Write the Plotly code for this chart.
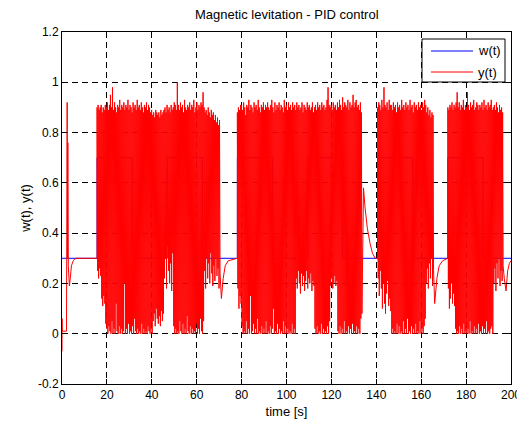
import numpy as np
import plotly.graph_objects as go

# ---------------- data ----------------
# reference w(t): step times and levels
w_times = [0, 15.625, 31.25, 46.875, 62.5, 78.125, 93.75, 109.375, 125.0,
           140.625, 156.25, 171.875, 187.5, 200]
w_levels = [0.3, 0.7, 0.3, 0.7, 0.3, 0.7, 0.3, 0.7, 0.3, 0.7, 0.3, 0.7, 0.3, 0.3]

# output y(t): initial transient
y0_t = [0, 0.02, 0.1, 2.0, 2.3, 2.5, 2.6, 2.8, 3.3, 3.7, 4.2, 5.0, 6.0, 8.0]
y0_v = [-0.07, 0.06, 0.01, 0.01, 0.92, 0.30, 0.76, 0.27, 0.19, 0.22, 0.27, 0.29, 0.30, 0.30]

# oscillating segment 1 (15.6 s .. 70.4 s)
seg1_span = [15.625, 70.4]
seg1_peaks = [0.90, 0.91, 0.89, 0.90, 0.91, 0.88, 0.90, 0.89, 0.91, 0.90,
              0.92, 0.89, 0.91, 0.95, 0.90, 0.98, 0.89, 0.92, 0.90, 0.88,
              0.91, 0.90, 0.93, 0.89, 0.91, 0.90, 0.92, 0.89, 0.91, 0.90,
              0.93, 0.89, 0.91, 0.90, 0.88, 0.92, 0.90, 0.91, 0.89, 0.93,
              0.90, 0.91, 0.89, 0.92, 0.90, 0.88, 0.91, 0.90, 0.92, 0.89,
              0.91, 0.90, 0.88, 0.89, 0.87, 0.88, 0.86, 0.89, 0.88, 0.87,
              0.88, 0.86, 0.89, 0.87, 0.88, 0.89, 0.90, 0.88, 0.91, 0.89,
              0.90, 0.88, 0.91, 0.89, 0.90, 0.92, 0.91, 0.89, 1.00, 0.91,
              0.89, 0.92, 0.90, 0.91, 0.88, 0.93, 0.90, 0.89, 0.91, 0.90,
              0.92, 0.89, 0.91, 0.90, 0.93, 0.88, 0.90, 0.92, 0.89, 0.91,
              0.90, 0.92, 0.91, 0.96, 0.90, 0.88, 0.89, 0.87, 0.90, 0.88,
              0.86, 0.89, 0.87, 0.88, 0.85, 0.87, 0.84, 0.86, 0.83, 0.85]
seg1_troughs = [0.25, 0.22, 0.26, 0.23, 0.14, 0.11, 0.15, 0.12, 0.04, 0.02,
                0.00, 0.03, 0.01, 0.00, 0.05, 0.00, 0.02, 0.00, 0.12, 0.01,
                0.00, 0.03, 0.00, 0.02, 0.00, 0.01, 0.20, 0.00, 0.02, 0.00,
                0.04, 0.00, 0.01, 0.00, 0.03, 0.00, 0.06, 0.01, 0.00, 0.02,
                0.00, 0.01, 0.00, 0.04, 0.00, 0.02, 0.00, 0.01, 0.00, 0.03,
                0.01, 0.00, 0.02, 0.00, 0.05, 0.08, 0.03, 0.10, 0.06, 0.04,
                0.07, 0.03, 0.09, 0.05, 0.08, 0.22, 0.30, 0.18, 0.35, 0.25,
                0.20, 0.28, 0.17, 0.32, 0.03, 0.00, 0.02, 0.00, 0.01, 0.00,
                0.05, 0.01, 0.00, 0.04, 0.00, 0.02, 0.00, 0.07, 0.01, 0.00,
                0.03, 0.00, 0.02, 0.00, 0.01, 0.00, 0.04, 0.00, 0.02, 0.00,
                0.06, 0.01, 0.00, 0.05, 0.25, 0.18, 0.30, 0.22, 0.28, 0.20,
                0.32, 0.24, 0.19, 0.27, 0.21, 0.30, 0.23, 0.26, 0.18, 0.24]
tail1_t = [71.0, 71.8, 72.7, 74.0, 78.1]
tail1_v = [0.14, 0.22, 0.27, 0.29, 0.30]

# oscillating segment 2 (78.1 s .. 133.6 s)
seg2_span = [78.125, 133.6]
seg2_peaks = [0.88, 0.90, 0.89, 0.91, 0.91, 0.89, 0.92, 0.90, 0.87, 0.91,
              0.90, 0.93, 0.89, 0.91, 0.90, 0.88, 0.92, 0.90, 0.91, 0.89,
              0.93, 0.90, 0.88, 0.91, 0.90, 0.92, 0.89, 0.91, 0.90, 0.92,
              0.90, 0.89, 0.91, 0.93, 0.90, 0.88, 0.92, 0.89, 0.91, 0.90,
              0.92, 0.89, 0.91, 0.90, 0.88, 0.93, 0.90, 0.91, 0.89, 0.92,
              0.90, 0.91, 0.89, 0.92, 0.90, 0.91, 0.89, 0.92, 0.90, 0.91,
              0.89, 0.90, 0.92, 0.88, 0.91, 0.90, 0.89, 0.92, 0.90, 0.91,
              0.89, 0.90, 0.92, 0.88, 0.90, 0.91, 0.89, 0.92, 0.90, 0.91,
              0.89, 0.92, 0.90, 0.91, 0.89, 0.90, 0.93, 0.98, 0.91, 0.90,
              0.91, 0.89, 0.92, 0.90, 0.91, 0.89, 0.92, 0.90, 0.93, 0.91,
              0.89, 0.94, 0.90, 0.92, 0.91, 0.90, 0.93, 0.89, 0.92, 0.90,
              0.91, 0.95, 0.90, 0.92, 0.93, 0.90, 0.91, 0.89, 0.92, 0.88]
seg2_troughs = [0.18, 0.10, 0.15, 0.12, 0.03, 0.00, 0.01, 0.00, 0.05, 0.00,
                0.02, 0.00, 0.15, 0.00, 0.01, 0.04, 0.00, 0.02, 0.00, 0.06,
                0.00, 0.01, 0.00, 0.03, 0.00, 0.02, 0.00, 0.05, 0.00, 0.01,
                0.00, 0.03, 0.00, 0.02, 0.10, 0.00, 0.01, 0.00, 0.04, 0.00,
                0.02, 0.00, 0.01, 0.00, 0.05, 0.00, 0.03, 0.00, 0.02, 0.00,
                0.01, 0.00, 0.04, 0.00, 0.02, 0.00, 0.22, 0.18, 0.25, 0.20,
                0.16, 0.24, 0.19, 0.23, 0.17, 0.21, 0.25, 0.18, 0.22, 0.20,
                0.24, 0.17, 0.21, 0.19, 0.02, 0.00, 0.03, 0.00, 0.01, 0.00,
                0.04, 0.00, 0.02, 0.00, 0.01, 0.00, 0.03, 0.00, 0.05, 0.19,
                0.22, 0.18, 0.20, 0.23, 0.19, 0.21, 0.01, 0.00, 0.03, 0.00,
                0.02, 0.00, 0.05, 0.00, 0.01, 0.00, 0.03, 0.00, 0.02, 0.00,
                0.04, 0.00, 0.01, 0.00, 0.03, 0.00, 0.02, 0.00, 0.06, 0.08]
tail2_t = [134.3, 135.0, 136.0, 137.2, 138.3, 139.5, 140.6]
tail2_v = [0.58, 0.50, 0.42, 0.36, 0.32, 0.30, 0.30]

# oscillating segment 3 (140.6 s .. 165.5 s)
seg3_span = [140.625, 165.5]
seg3_peaks = [0.90, 0.92, 0.91, 0.89, 0.93, 0.90, 0.98, 0.91, 0.90, 0.92,
              0.89, 0.93, 0.91, 0.91, 0.89, 0.92, 0.90, 0.91, 0.88, 0.92,
              0.90, 0.91, 0.89, 0.93, 0.90, 0.91, 0.89, 0.92, 0.90, 0.91,
              0.89, 0.93, 0.90, 0.91, 0.88, 0.92, 0.90, 0.91, 0.89, 0.92,
              0.90, 0.91, 0.89, 0.92, 0.90, 0.93, 0.91, 0.88, 0.90, 0.87,
              0.89, 0.86, 0.88, 0.87]
seg3_troughs = [0.22, 0.15, 0.25, 0.18, 0.10, 0.20, 0.12, 0.08, 0.16, 0.21,
                0.11, 0.14, 0.09, 0.00, 0.02, 0.00, 0.01, 0.00, 0.04, 0.00,
                0.03, 0.00, 0.01, 0.00, 0.05, 0.00, 0.02, 0.00, 0.06, 0.00,
                0.01, 0.00, 0.03, 0.00, 0.02, 0.00, 0.04, 0.00, 0.01, 0.00,
                0.05, 0.00, 0.02, 0.00, 0.03, 0.06, 0.20, 0.26, 0.18, 0.28,
                0.22, 0.30, 0.19, 0.25]
tail3_t = [166.0, 167.0, 168.0, 169.5, 171.8]
tail3_v = [0.12, 0.22, 0.27, 0.29, 0.30]

# oscillating segment 4 (171.9 s .. 196.5 s)
seg4_span = [171.875, 196.5]
seg4_peaks = [0.90, 0.89, 0.91, 0.90, 0.92, 0.89, 0.91, 0.90, 0.92, 0.96,
              0.90, 0.92, 0.89, 0.91, 0.90, 0.93, 0.89, 0.91, 0.90, 0.96,
              0.91, 0.89, 0.92, 0.90, 0.91, 0.93, 0.89, 0.90, 0.92, 0.91,
              0.89, 0.91, 0.90, 0.92, 0.89, 0.93, 0.90, 0.91, 0.89, 0.92,
              0.90, 0.91, 0.93, 0.89, 0.90, 0.91, 0.89, 0.92, 0.90, 0.88,
              0.91, 0.89, 0.90, 0.88]
seg4_troughs = [0.18, 0.10, 0.14, 0.20, 0.12, 0.16, 0.11, 0.02, 0.00, 0.01,
                0.00, 0.03, 0.00, 0.02, 0.00, 0.04, 0.00, 0.01, 0.00, 0.02,
                0.00, 0.05, 0.00, 0.01, 0.00, 0.03, 0.00, 0.02, 0.00, 0.04,
                0.00, 0.01, 0.00, 0.03, 0.00, 0.02, 0.00, 0.05, 0.00, 0.01,
                0.00, 0.02, 0.03, 0.00, 0.20, 0.26, 0.17, 0.28, 0.22, 0.30,
                0.19, 0.25, 0.21, 0.27]
tail4_t = [197.0, 197.8, 198.5, 199.3, 200.0]
tail4_v = [0.22, 0.17, 0.25, 0.28, 0.29]

x_ticks = [0, 20, 40, 60, 80, 100, 120, 140, 160, 180, 200]
y_ticks = [-0.2, 0, 0.2, 0.4, 0.6, 0.8, 1.0, 1.2]
y_tick_text = ["-0.2", "0", "0.2", "0.4", "0.6", "0.8", "1", "1.2"]
legend_names = ["w(t)", "y(t)"]
legend_colors = ["#0000ff", "#ff0000"]


# ---------------- assemble y(t) ----------------
def segment(span, peaks, troughs):
    vals = []
    for p, q in zip(peaks, troughs):
        vals += [p, q]
    ts = np.linspace(span[0], span[1], len(vals))
    return list(ts), vals


yt, yv = list(y0_t), list(y0_v)
for span, pk, tr, tt, tv in [
    (seg1_span, seg1_peaks, seg1_troughs, tail1_t, tail1_v),
    (seg2_span, seg2_peaks, seg2_troughs, tail2_t, tail2_v),
    (seg3_span, seg3_peaks, seg3_troughs, tail3_t, tail3_v),
    (seg4_span, seg4_peaks, seg4_troughs, tail4_t, tail4_v),
]:
    st, sv = segment(span, pk, tr)
    yt += [span[0]] + st + tt
    yv += [0.30] + sv + tv

FONT = "Liberation Sans, Arial, Helvetica, sans-serif"

# page is drawn with an 8px body offset; plot area target (window px): x 62..511, y 32..384
W, H = 525, 421
OFF = 8
L, R, T, B = 62 - OFF, W - (511 - OFF), 32 - OFF, H - (384 - OFF)
PW, PH = W - L - R, H - T - B


def px(X):   # window x pixel -> paper x
    return (X - OFF - L) / PW


def py(Y):   # window y pixel -> paper y
    return (H - B - (Y - OFF)) / PH


fig = go.Figure()
fig.add_trace(go.Scatter(x=w_times, y=w_levels, mode="lines", name=legend_names[0],
                         line=dict(color=legend_colors[0], width=1, shape="hv"),
                         showlegend=False))
fig.add_trace(go.Scatter(x=yt, y=yv, mode="lines", name=legend_names[1],
                         line=dict(color=legend_colors[1], width=1, simplify=False),
                         showlegend=False))

axis_common = dict(
    showline=True, linecolor="black", linewidth=1, mirror="ticks",
    ticks="inside", ticklen=5, tickcolor="black", automargin=False,
    showgrid=True, gridcolor="black", gridwidth=0.7, griddash="6px,4px",
    zeroline=False, tickfont=dict(family=FONT, size=12, color="black"),
)

fig.update_xaxes(range=[0, 200], tickvals=x_ticks,
                 title=dict(text="time [s]", font=dict(family=FONT, size=13, color="black"), standoff=5),
                 **axis_common)
fig.update_yaxes(range=[-0.2, 1.2], tickvals=y_ticks, ticktext=y_tick_text,
                 title=dict(text="w(t), y(t)", font=dict(family=FONT, size=13, color="black"), standoff=4),
                 **axis_common)

# manual MATLAB-style legend box
shapes = [dict(type="rect", xref="paper", yref="paper",
               x0=px(422), x1=px(505), y0=py(82), y1=py(39),
               line=dict(color="black", width=1), fillcolor="white", layer="above")]
annotations = [dict(text="Magnetic levitation - PID control", x=0.5, xref="paper",
                    xanchor="center", y=py(15), yref="paper", yanchor="middle",
                    showarrow=False, font=dict(family=FONT, size=13, color="black"))]
for i, (nm, col) in enumerate(zip(legend_names, legend_colors)):
    yy = py(51 + 21 * i)
    shapes.append(dict(type="line", xref="paper", yref="paper",
                       x0=px(431), x1=px(473), y0=yy, y1=yy,
                       line=dict(color=col, width=1), layer="above"))
    annotations.append(dict(text=nm, x=px(476), xref="paper", xanchor="left",
                            y=yy, yref="paper", yanchor="middle", showarrow=False,
                            font=dict(family=FONT, size=13, color="black")))

fig.update_layout(
    width=W, height=H,
    margin=dict(l=L, r=R, t=T, b=B),
    paper_bgcolor="white", plot_bgcolor="white",
    font=dict(family=FONT, size=12, color="black"),
    showlegend=False,
    shapes=shapes,
    annotations=annotations,
)

fig.write_html("out.html")
